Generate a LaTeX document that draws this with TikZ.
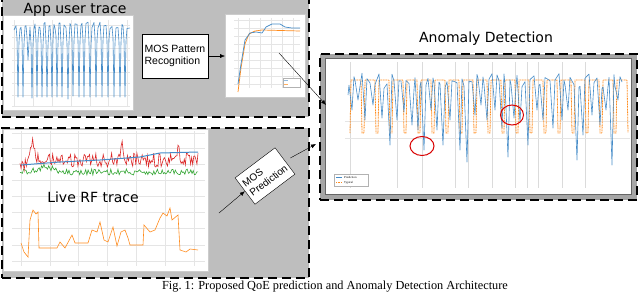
\documentclass[tikz,border=0pt]{standalone}
\usepackage{fontspec}
\setmainfont{Liberation Serif}
\newfontfamily\titlefont{DejaVu Sans}
\newfontfamily\boxfont{Liberation Sans}
\usetikzlibrary{positioning,calc,arrows.meta,shapes.geometric}

\definecolor{panelgray}{RGB}{190,190,190}
\definecolor{traceblue}{RGB}{70,140,200}
\definecolor{traceorange}{RGB}{255,140,30}
\definecolor{tracered}{RGB}{220,40,40}
\definecolor{tracegreen}{RGB}{50,165,50}

\begin{document}
\begin{tikzpicture}[x=1pt,y=-1pt]

% ---- Styles ----
\tikzset{
  panel/.style={rectangle, draw, line width=1.6pt, dash pattern=on 9pt off 5pt,
                fill=panelgray, anchor=north west, inner sep=0pt},
  plotbg/.style={rectangle, draw=black!20, fill=white, anchor=north west, inner sep=0pt},
  procbox/.style={rectangle, draw, thin, fill=white, align=left, inner sep=1pt,
                  font=\boxfont\fontsize{10.5}{12.5}\selectfont},
  trtitle/.style={font=\titlefont\fontsize{14}{16}\selectfont, inner sep=0pt, anchor=base},
  gridln/.style={black!10, very thin},
  tracebl/.style={traceblue, line width=0.6pt, line join=round},
  typical/.style={traceorange, line width=0.8pt, dash pattern=on 1pt off 0.6pt},
  anomring/.style={ellipse, draw=red!85!black, line width=1pt, inner sep=0pt},
  flow/.style={-{Latex[length=5pt,width=4pt]}, thin},
}
\pgfmathsetseed{7}

\useasboundingbox (0,0) rectangle (640,293);

% --- Panels ---
\node[panel, minimum width=307pt, minimum height=119pt] (apppanel) at (1,-3) {};
\node[panel, minimum width=307pt, minimum height=150pt] (rfpanel) at (1,127) {};
\node[panel, fill=black!35, minimum width=317pt, minimum height=146pt] (anompanel) at (319,53) {};

% --- Plots ---
\node[plotbg, minimum width=130pt, minimum height=95pt] (appplot) at (3,15) {};
\node[plotbg, minimum width=80pt, minimum height=83pt] (mosplot) at (225,14) {};
\node[plotbg, minimum width=205pt, minimum height=142pt] (rfplot) at (3,129) {};
\node[plotbg, draw=black!60, minimum width=306pt, minimum height=136pt] (anomplot) at (325,58) {};

% --- App user trace ---
\foreach \gx in {14,33,52,71,90,108,127} \draw[gridln] (\gx,20) -- (\gx,106);
\foreach \gy in {25,37,48,60,72,83,95,106} \draw[gridln] (12,\gy) -- (130,\gy);
\draw[tracebl] (14,30)
  \foreach \x/\d in {18/97,23/97,28/60,32/98,37/97,42/97,47/97,52/97,57/97,62/97,
                     68/99,73/96,79/97,84/97,90/97,96/97,102/97,108/97,114/97,120/97,125/97}
  { -- (\x-2,{25+3*rand}) -- (\x-1,{40+4*rand}) -- (\x,\d) -- (\x+1,{42+4*rand}) -- (\x+2,{26+3*rand}) }
  -- (130,28);

% --- MOS pattern plot ---
\foreach \gx in {238,249,260,271,282,293} \draw[gridln] (\gx,18) -- (\gx,88);
\foreach \gy in {20,28,36,44,52,60,68,76,84} \draw[gridln] (234,\gy) -- (300,\gy);
\draw[traceorange, line width=0.7pt] (238,92) -- (241,68) -- (245,44) -- (249,34) -- (255,31)
  -- (262,30) -- (300,31);
\draw[tracebl, line width=0.7pt] (238,84) -- (241,64) -- (245,40) -- (250,33) -- (256,32)
  -- (262,33) -- (266,27) -- (272,24) -- (280,24) -- (285,27) -- (292,28) -- (300,28);
\draw[black!30, fill=white] (283,78) rectangle (300,87);
\draw[traceblue!60] (284,80.5) -- (288,80.5);
\draw[traceorange!70] (284,84.5) -- (288,84.5);

% --- Live RF trace ---
\foreach \gx in {21,50,78,107,136,165,194} \draw[gridln] (\gx,131) -- (\gx,266);
\foreach \gy in {133,148,164,180,196,212,228,245,261} \draw[gridln] (12,\gy) -- (205,\gy);
\draw[tracegreen, line width=0.6pt] plot[domain=20:198, samples=150]
  (\x,{172+3*rand-5*max(0,1-abs(\x-45)/20)});
\draw[tracered, line width=0.6pt] plot[domain=20:198, samples=170]
  (\x,{160+7*rand+8*max(0,1-abs(\x-24)/4)-22*max(0,1-abs(\x-33)/4)
        -14*max(0,1-abs(\x-122)/3)-12*max(0,1-abs(\x-178)/3)});
\draw[traceblue, line width=1pt] (21,165) -- (60,162) -- (100,160) -- (140,157) -- (160,153) -- (198,152);
\draw[traceorange, line width=0.6pt] (21,243) -- (24,252) -- (28,257) -- (30,220) -- (33,210)
  -- (36,214) -- (38,212) -- (39,248) -- (57,248) -- (60,242) -- (65,248) -- (72,235)
  -- (75,243) -- (88,243) -- (92,230) -- (97,232) -- (100,222) -- (104,240) -- (108,242)
  -- (113,227) -- (117,246) -- (121,232) -- (125,230) -- (128,238) -- (130,245) -- (143,245)
  -- (144,225) -- (150,232) -- (155,230) -- (160,218) -- (163,213) -- (167,216) -- (170,208)
  -- (172,220) -- (178,215) -- (180,250) -- (186,252) -- (190,249) -- (198,250);
\node[trtitle] (rftitle) at (93,202) {Live RF trace};

% --- Anomaly plot ---
\foreach \gx in {350,397,422,455,468,492,515,527,538,562,585} \draw[gridln, black!14] (\gx,62) -- (\gx,188);
\foreach \gy in {121,138} \draw[gridln] (345,\gy) -- (630,\gy);
\draw[typical] (350,133)
  \foreach \x in {350,364,...,616} { -- (\x,133) -- (\x+1,80) -- (\x+11,80) -- (\x+12,133) };
\draw[tracebl] (348,95)
  \foreach \x/\d in {352/110,358/100,365/120,373/105,382/118,390/145,397/120,404/112,
                     412/125,418/130,424/150,431/110,437/130,443/145,450/120,460/150,
                     467/162,475/115,481/105,487/120,495/110,502/128,508/157,514/118,
                     520/122,528/145,537/110,543/120,553/128,562/120,568/110,577/160,
                     583/135,592/115,600/125,606/110,612/165,618/100}
  { -- (\x-3,{80+7*rand}) -- (\x,\d) -- (\x+2,{82+8*rand}) }
  -- (622,82);
\draw[black!30, fill=white] (334,174) rectangle (368,186);
\draw[traceblue] (336,177.5) -- (342,177.5);
\draw[typical] (336,182.5) -- (342,182.5);
\node[font=\fontsize{3}{3.5}\selectfont, inner sep=0pt, anchor=west] (legpred) at (344,177.5) {Prediction};
\node[font=\fontsize{3}{3.5}\selectfont, inner sep=0pt, anchor=west] (legtyp) at (344,182.5) {Typical};
\node[anomring, minimum width=24pt, minimum height=19pt] (anomA) at (422,146) {};
\node[anomring, minimum width=23pt, minimum height=20pt] (anomB) at (512,115) {};

% --- Titles and boxes ---
\node[trtitle] (apptitle) at (75,13) {App user trace};
\node[trtitle] (anomtitle) at (486,42) {Anomaly Detection};
\node[procbox, minimum width=66pt, minimum height=44pt] (patbox) at (175,56) {MOS Pattern\\Recognition};
\node[procbox, rotate=37, minimum width=50pt, minimum height=33pt,
      font=\boxfont\fontsize{10}{12}\selectfont] (predbox) at (265,176) {MOS\\Prediction};

% --- Connectors ---
\coordinate (mosmark) at (279,53);
\coordinate (anomin) at (326,105);
\coordinate (rfout) at (219,213);
\coordinate (anomhit) at (316,144);
\draw[flow] (patbox.east) -- (patbox.east -| mosplot.west);
\draw[flow, thin] (mosmark) -- (anomin);
\draw[flow] (rfout) -- (predbox.west);
\draw[flow, shorten <=6pt] (predbox.east) -- (anomhit);

% --- Caption ---
\node[font=\fontsize{12.3}{14}\selectfont, inner sep=0pt, anchor=base] (caption) at (335,289.5)
  {Fig.~1: Proposed QoE prediction and Anomaly Detection Architecture};

\end{tikzpicture}
\end{document}
